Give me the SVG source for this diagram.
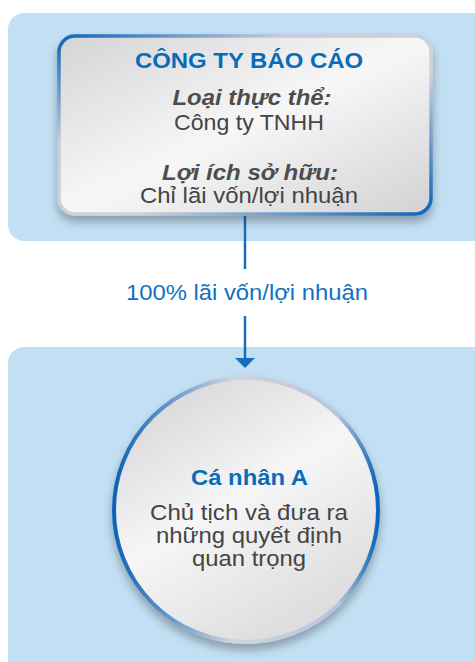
<svg xmlns="http://www.w3.org/2000/svg" width="475" height="662" viewBox="0 0 475 662">
<defs>
<style>
.panel{fill:#c2dff3}
.t{font-family:"Liberation Sans",Arial,sans-serif;text-anchor:middle}
.h{font-weight:bold;fill:#0a6cb8;font-size:22px}
.i{font-weight:bold;font-style:italic;fill:#4d4d4d;font-size:22px}
.r{fill:#444;font-size:22px}
.lbl{fill:#1272c0;font-size:21.5px}
.conn{stroke:#1470bf;stroke-width:2.5;fill:none}
</style>
<linearGradient id="boxFill" x1="0" y1="0" x2="1" y2="1">
<stop offset="0" stop-color="#d4d4d6"/>
<stop offset="0.5" stop-color="#f7f7f8"/>
<stop offset="1" stop-color="#d2d2d4"/>
</linearGradient>
<linearGradient id="boxStroke" x1="0" y1="0" x2="1" y2="1">
<stop offset="0" stop-color="#0b63b6"/>
<stop offset="0.3" stop-color="#c8ccd8"/>
<stop offset="0.6" stop-color="#d0d3dc"/>
<stop offset="1" stop-color="#0b63b6"/>
</linearGradient>
<linearGradient id="circFill" x1="0.2" y1="0" x2="0.8" y2="1">
<stop offset="0" stop-color="#d6d6d8"/>
<stop offset="0.45" stop-color="#f6f6f7"/>
<stop offset="1" stop-color="#d8d8da"/>
</linearGradient>
<linearGradient id="circStroke" x1="0" y1="0" x2="1" y2="0">
<stop offset="0" stop-color="#0b63b6"/>
<stop offset="0.45" stop-color="#d2d4dc"/>
<stop offset="0.85" stop-color="#b8c4dc"/>
<stop offset="1" stop-color="#0b63b6"/>
</linearGradient>
<filter id="sh" x="-20%" y="-20%" width="140%" height="150%">
<feGaussianBlur in="SourceAlpha" stdDeviation="5"/>
<feOffset dx="0" dy="6" result="b"/>
<feComponentTransfer><feFuncA type="linear" slope="0.3"/></feComponentTransfer>
<feMerge><feMergeNode/><feMergeNode in="SourceGraphic"/></feMerge>
</filter>
</defs>
<rect width="475" height="662" fill="#ffffff"/>
<rect class="panel" x="8" y="13" width="490" height="228" rx="16"/>
<rect class="panel" x="8" y="347" width="490" height="330" rx="16"/>
<g id="connectors">
<line class="conn" x1="245" y1="215" x2="245" y2="269"/>
<line class="conn" x1="245" y1="316" x2="245" y2="358"/>
<path d="M235,358 L255,358 L245,368 Z" fill="#1470bf"/>
<text class="t lbl" x="247" y="300" textLength="242" lengthAdjust="spacingAndGlyphs">100% lãi vốn/lợi nhuận</text>
</g>
<g id="node-company">
<rect x="59" y="36" width="372" height="178" rx="16" fill="url(#boxFill)" stroke="url(#boxStroke)" stroke-width="3.5" filter="url(#sh)"/>
<text class="t h" x="249" y="68" textLength="228" lengthAdjust="spacingAndGlyphs">CÔNG TY BÁO CÁO</text>
<text class="t i" x="252" y="105" textLength="159" lengthAdjust="spacingAndGlyphs">Loại thực thể:</text>
<text class="t r" x="249" y="130" textLength="150" lengthAdjust="spacingAndGlyphs">Công ty TNHH</text>
<text class="t i" x="250" y="180" textLength="176" lengthAdjust="spacingAndGlyphs">Lợi ích sở hữu:</text>
<text class="t r" x="249" y="203" textLength="218" lengthAdjust="spacingAndGlyphs">Chỉ lãi vốn/lợi nhuận</text>
</g>
<g id="node-person">
<circle cx="246" cy="510" r="132" fill="url(#circFill)" stroke="url(#circStroke)" stroke-width="4" filter="url(#sh)"/>
<text class="t h" x="249.5" y="485" textLength="117" lengthAdjust="spacingAndGlyphs">Cá nhân A</text>
<text class="t r" x="249" y="520" textLength="198" lengthAdjust="spacingAndGlyphs">Chủ tịch và đưa ra</text>
<text class="t r" x="249" y="543" textLength="186" lengthAdjust="spacingAndGlyphs">những quyết định</text>
<text class="t r" x="249" y="566" textLength="114" lengthAdjust="spacingAndGlyphs">quan trọng</text>
</g>
</svg>
